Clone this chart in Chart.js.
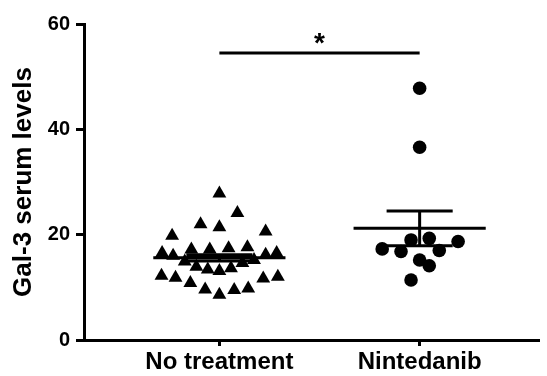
<!DOCTYPE html>
<html lang="en">
<head>
    <meta charset="UTF-8">
    <title>Gal-3 serum levels</title>
    <script src="https://cdn.jsdelivr.net/npm/chart.js"></script>
    <style>
        body { margin: 0; background: #fff; }
        #wrap { width: 547px; height: 376px; }
    </style>
</head>
<body>
<div id="wrap"><canvas id="galChart"></canvas></div>
<script>
    // groups and tick labels
    const groups = ['No treatment', 'Nintedanib'];
    const yTicks = [0, 20, 40, 60];

    // No treatment (triangles): jittered x around 1, y values
    const noTreatX = [1.00, 1.09, 0.906, 1.00, 0.764, 1.231, 0.860, 0.952, 1.046, 1.140,
        0.714, 0.769, 1.231, 1.286, 0.827, 0.885, 0.942, 1.00, 1.058, 1.115,
        1.173, 0.711, 0.781, 0.855, 0.929, 1.00, 1.074, 1.144, 1.219, 1.292];
    const noTreatY = [27.8, 24.1, 22.0, 21.4, 19.8, 20.6, 17.2, 17.2, 17.4, 17.6,
        16.5, 16.0, 16.2, 16.5, 14.9, 13.9, 13.4, 13.1, 13.6, 14.6,
        15.2, 12.2, 11.8, 10.8, 9.6, 8.6, 9.5, 9.8, 11.7, 12.0];

    // Nintedanib (circles): jittered x around 2
    const ninX = [2.00, 2.00, 1.813, 1.907, 1.957, 2.048, 2.098, 2.192, 2.00, 2.048, 1.957];
    const ninY = [47.8, 36.6, 17.3, 16.8, 19.0, 19.3, 17.0, 18.7, 15.2, 14.1, 11.4];

    // mean and SEM per group
    const groupMean = [15.6, 21.2];
    const groupSem = [0.6, 3.3];

    // significance bracket: from group 1 to 2 at y, star label
    const sigFrom = 1.0, sigTo = 2.0, sigY = 54.5, sigLabel = '*', sigLabelY = 56.2;

    const toPoints = (xs, ys) => xs.map((x, i) => ({x: x, y: ys[i]}));

    const overlay = {
        id: 'overlay',
        afterDatasetsDraw(chart) {
            const ctx = chart.ctx;
            const xs = chart.scales.x, ys = chart.scales.y;
            ctx.save();
            ctx.strokeStyle = '#000';
            ctx.lineWidth = 3;
            groupMean.forEach((m, i) => {
                const g = i + 1;
                const yM = ys.getPixelForValue(m);
                const yHi = ys.getPixelForValue(m + groupSem[i]);
                const yLo = ys.getPixelForValue(m - groupSem[i]);
                ctx.beginPath();
                ctx.moveTo(xs.getPixelForValue(g - 0.33), yM);
                ctx.lineTo(xs.getPixelForValue(g + 0.33), yM);
                ctx.moveTo(xs.getPixelForValue(g), yHi);
                ctx.lineTo(xs.getPixelForValue(g), yLo);
                ctx.moveTo(xs.getPixelForValue(g - 0.165), yHi);
                ctx.lineTo(xs.getPixelForValue(g + 0.165), yHi);
                ctx.moveTo(xs.getPixelForValue(g - 0.165), yLo);
                ctx.lineTo(xs.getPixelForValue(g + 0.165), yLo);
                ctx.stroke();
            });
            // significance bar
            ctx.beginPath();
            ctx.moveTo(xs.getPixelForValue(sigFrom), ys.getPixelForValue(sigY));
            ctx.lineTo(xs.getPixelForValue(sigTo), ys.getPixelForValue(sigY));
            ctx.stroke();
            ctx.fillStyle = '#000';
            ctx.font = 'bold 28px "Liberation Sans", Arial, sans-serif';
            ctx.textAlign = 'center';
            ctx.textBaseline = 'middle';
            ctx.fillText(sigLabel, xs.getPixelForValue((sigFrom + sigTo) / 2), ys.getPixelForValue(sigLabelY));
            ctx.restore();
        }
    };

    const font = '"Liberation Sans", Arial, sans-serif';

    new Chart(document.getElementById('galChart').getContext('2d'), {
        type: 'scatter',
        data: {
            datasets: [{
                label: groups[0],
                data: toPoints(noTreatX, noTreatY),
                pointStyle: 'triangle',
                radius: 8,
                backgroundColor: '#000',
                borderColor: '#000',
                borderWidth: 0
            }, {
                label: groups[1],
                data: toPoints(ninX, ninY),
                pointStyle: 'circle',
                radius: 6.8,
                backgroundColor: '#000',
                borderColor: '#000',
                borderWidth: 0
            }]
        },
        options: {
            responsive: true,
            maintainAspectRatio: false,
            animation: false,
            layout: { padding: { top: 24, right: 0, left: 0, bottom: 0 } },
            plugins: {
                legend: { display: false },
                tooltip: { enabled: false }
            },
            scales: {
                x: {
                    type: 'linear',
                    min: 0.324,
                    max: 2.596,
                    afterBuildTicks: axis => { axis.ticks = [{value: 1}, {value: 2}]; },
                    afterFit: axis => { axis.height = 36; },
                    ticks: {
                        callback: v => groups[v - 1],
                        color: '#000',
                        font: { family: font, size: 24, weight: 'bold' },
                        padding: 2,
                        maxRotation: 0
                    },
                    grid: {
                        display: true,
                        drawOnChartArea: false,
                        drawTicks: true,
                        tickLength: 6,
                        tickWidth: 3,
                        tickColor: '#000'
                    },
                    border: { color: '#000', width: 3 }
                },
                y: {
                    min: 0,
                    max: 60,
                    afterBuildTicks: axis => { axis.ticks = yTicks.map(v => ({value: v})); },
                    afterFit: axis => { axis.width = 84; },
                    ticks: {
                        color: '#000',
                        font: { family: font, size: 20, weight: 'bold' },
                        padding: 6
                    },
                    grid: {
                        display: true,
                        drawOnChartArea: false,
                        drawTicks: true,
                        tickLength: 8,
                        tickWidth: 3,
                        tickColor: '#000'
                    },
                    border: { color: '#000', width: 3 },
                    title: {
                        display: true,
                        text: 'Gal-3 serum levels',
                        color: '#000',
                        font: { family: font, size: 26, weight: 'bold' },
                        padding: { top: 8, bottom: 0 }
                    }
                }
            }
        },
        plugins: [overlay]
    });
</script>
</body>
</html>
